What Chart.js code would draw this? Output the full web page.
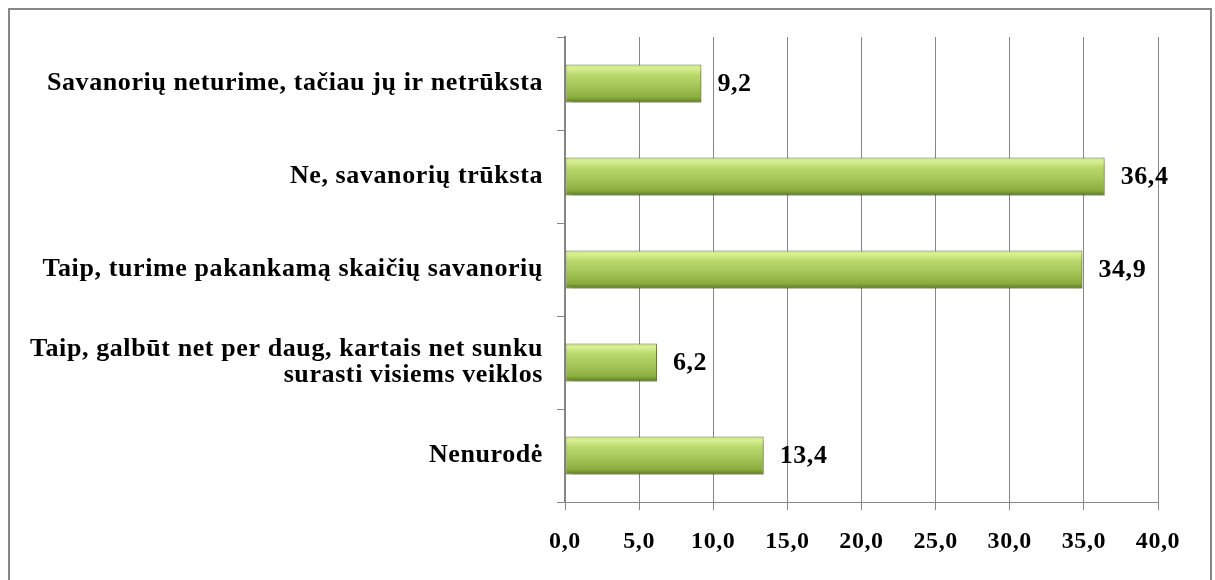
<!DOCTYPE html>
<html>
<head>
<meta charset="utf-8">
<script src="https://cdn.jsdelivr.net/npm/chart.js@4"></script>
<style>
  body { margin: 0; background: #fff; }
  #wrap { position: relative; width: 1215px; height: 580px; }
  #frame {
    position: absolute; left: 8px; top: 8px; width: 1204px; height: 620px;
    box-sizing: border-box; border: 2px solid #878787; border-bottom: none;
    pointer-events: none;
  }
</style>
</head>
<body>
<div id="wrap">
  <canvas id="myChart"></canvas>
  <div id="frame"></div>
</div>
<script>
const categories = [
  'Savanorių neturime, tačiau jų ir netrūksta',
  'Ne, savanorių trūksta',
  'Taip, turime pakankamą skaičių savanorių',
  ['Taip, galbūt net per daug, kartais net sunku', 'surasti visiems veiklos'],
  'Nenurodė'
];
const values = [9.2, 36.4, 34.9, 6.2, 13.4];
const xMin = 0, xMax = 40, xStep = 5;

const barPct = 0.41;
const fmt = v => v.toFixed(1).replace('.', ',');

Chart.defaults.font.family = "'Liberation Serif', 'Times New Roman', serif";
Chart.defaults.font.weight = 'bold';
Chart.defaults.color = '#000';

// green bar with a light top edge and a dark bottom edge
function barFill(context) {
  const chart = context.chart;
  const yScale = chart.scales.y;
  if (!yScale || context.dataIndex === undefined) return '#9bbb59';
  const yc = yScale.getPixelForValue(context.dataIndex);
  const h = (yScale.bottom - yScale.top) / categories.length * barPct;
  if (!isFinite(yc) || !isFinite(h) || h <= 0) return '#9bbb59';
  const g = chart.ctx.createLinearGradient(0, yc - h / 2, 0, yc + h / 2);
  g.addColorStop(0, '#c9e282');
  g.addColorStop(0.1, '#d9f192');
  g.addColorStop(0.28, '#b9d86c');
  g.addColorStop(0.6, '#a2c455');
  g.addColorStop(0.86, '#8cae40');
  g.addColorStop(1, '#5a7724');
  return g;
}

const barLook = {
  id: 'barLook',
  beforeDraw(chart) {
    // the original text is set a little wider than the plain font
    chart.ctx.letterSpacing = '0.6px';
  },
  afterDraw(chart) {
    chart.ctx.letterSpacing = '0px';
  },
  beforeDatasetsDraw(chart) {
    const ctx = chart.ctx;
    ctx.save();
    ctx.shadowColor = 'rgba(0,0,0,0.28)';
    ctx.shadowBlur = 6;
    ctx.shadowOffsetX = 3;
    ctx.shadowOffsetY = 5;
  },
  afterDatasetsDraw(chart) {
    const ctx = chart.ctx;
    ctx.restore();
    const meta = chart.getDatasetMeta(0);
    ctx.save();
    ctx.font = "bold 26px 'Liberation Serif', serif";
    ctx.fillStyle = '#000';
    ctx.textAlign = 'left';
    ctx.textBaseline = 'middle';
    meta.data.forEach((bar, i) => {
      const p = bar.getProps(['x', 'y'], true);
      ctx.fillText(fmt(values[i]), p.x + 16, p.y + 1);
    });
    ctx.restore();
  }
};

const ctx = document.getElementById('myChart').getContext('2d');
const chart = new Chart(ctx, {
  type: 'bar',
  data: {
    labels: categories,
    datasets: [{
      data: values,
      backgroundColor: barFill,
      borderColor: '#647f2c',
      borderWidth: 1,
      borderSkipped: false,
      barPercentage: barPct,
      categoryPercentage: 1.0
    }]
  },
  options: {
    indexAxis: 'y',
    responsive: true,
    maintainAspectRatio: false,
    animation: false,
    layout: { padding: { top: 37, right: 57, left: 0, bottom: 0 } },
    plugins: { legend: { display: false }, tooltip: { enabled: false } },
    scales: {
      x: {
        min: xMin, max: xMax,
        ticks: { stepSize: xStep, callback: v => fmt(v), font: { size: 24 }, padding: 17, maxRotation: 0 },
        grid: { color: '#868686', lineWidth: 1, tickLength: 8 },
        border: { color: '#868686', width: 1 },
        afterFit: scale => { scale.height = 78; }
      },
      y: {
        ticks: { font: { size: 26, lineHeight: 1.0 }, padding: 14 },
        grid: { display: true, drawOnChartArea: false, color: '#868686', tickLength: 8, offset: true },
        border: { color: '#868686', width: 2 },
        afterFit: scale => { scale.width = 565; }
      }
    }
  },
  plugins: [barLook]
});
</script>
</body>
</html>
